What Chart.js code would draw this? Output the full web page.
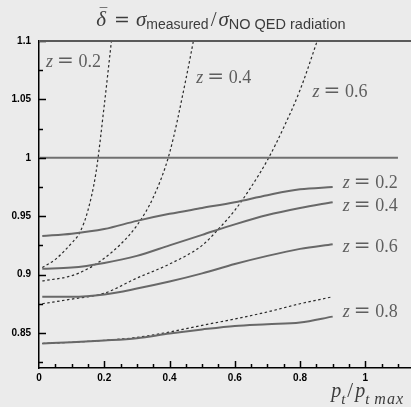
<!DOCTYPE html>
<html>
<head>
<meta charset="utf-8">
<script src="https://cdn.jsdelivr.net/npm/chart.js@4.4.0/dist/chart.umd.min.js"></script>
<style>
  body { margin: 0; background: #ebebeb; }
  canvas { display: block; }
</style>
</head>
<body>
<canvas id="delta-chart" width="411" height="407"></canvas>
<script>
/* delta bar = sigma measured / sigma without QED radiation */

/***** data *****/
const ptSolid = [0.01, 0.1, 0.2, 0.3, 0.4, 0.5, 0.6, 0.7, 0.8, 0.9];
const solidZ02 = [0.933, 0.935, 0.939, 0.946, 0.952, 0.957, 0.962, 0.968, 0.973, 0.975];
const solidZ04 = [0.905, 0.906, 0.910, 0.916, 0.925, 0.934, 0.943, 0.951, 0.957, 0.962];
const solidZ06 = [0.881, 0.881, 0.883, 0.888, 0.894, 0.901, 0.909, 0.916, 0.922, 0.926];
const solidZ08 = [0.841, 0.842, 0.8435, 0.8455, 0.8495, 0.853, 0.856, 0.8575, 0.859, 0.864];

const ptDashZ02 = [0.01, 0.05, 0.1, 0.125, 0.15, 0.175, 0.2, 0.222, 0.25];
const dashZ02 = [0.906, 0.913, 0.927, 0.936, 0.955, 0.988, 1.045, 1.1, 1.17];
const ptDashZ04 = [0.01, 0.1, 0.15, 0.2, 0.25, 0.3, 0.35, 0.4, 0.45, 0.5];
const dashZ04 = [0.8945, 0.899, 0.905, 0.914, 0.926, 0.942, 0.966, 1.004, 1.067, 1.14];
const ptDashZ06 = [0.01, 0.1, 0.2, 0.3, 0.4, 0.5, 0.55, 0.6, 0.65, 0.7, 0.75, 0.8, 0.85, 0.9];
const dashZ06 = [0.875, 0.879, 0.884, 0.897, 0.909, 0.925, 0.939, 0.955, 0.975, 0.998, 1.026, 1.058, 1.098, 1.14];
const dashZ08 = [0.841, 0.842, 0.8437, 0.8462, 0.8508, 0.8565, 0.862, 0.868, 0.875, 0.881];

const refX = [0, 1.1];
const refY = [1, 1];

const xTickValues = [0, 0.2, 0.4, 0.6, 0.8, 1];
const yTickValues = [0.85, 0.9, 0.95, 1, 1.05, 1.1];

const zTop = ["0.2", "0.4", "0.6"];
const zRight = ["0.2", "0.4", "0.6", "0.8"];

function toPoints(xs, ys) {
    return xs.map((x, i) => ({ x: x, y: ys[i] }));
}

/***** styles *****/
const solidStyle = {
    borderColor: '#686868',
    borderWidth: 2,
    pointRadius: 0,
    cubicInterpolationMode: 'monotone',
    fill: false
};

const dashStyle = {
    borderColor: '#2a2a2a',
    borderWidth: 1.2,
    borderDash: [2.5, 2.5],
    pointRadius: 0,
    cubicInterpolationMode: 'monotone',
    fill: false
};

/***** extra drawing: background, inner ticks, texts *****/
const serif = "'Liberation Serif', serif";
const sans = "'Liberation Sans', sans-serif";

function drawZ(ctx, x, y, value) {
    ctx.font = "italic 18px " + serif;
    ctx.fillText("z", x, y);
    ctx.font = "20px 'DejaVu Serif', serif";
    ctx.fillText("=", x + 11, y);
    ctx.font = "18px " + serif;
    ctx.fillText(value, x + 32.5, y);
}

function drawRuns(ctx, x, y, runs) {
    runs.forEach(r => {
        ctx.font = r.font;
        ctx.letterSpacing = r.spacing || '0px';
        ctx.fillText(r.text, x, y + (r.dy || 0));
        x += ctx.measureText(r.text).width + (r.gap || 0);
    });
    ctx.letterSpacing = '0px';
}

function runsWidth(ctx, runs) {
    let w = 0;
    runs.forEach(r => {
        ctx.font = r.font;
        ctx.letterSpacing = r.spacing || '0px';
        w += ctx.measureText(r.text).width + (r.gap || 0);
    });
    ctx.letterSpacing = '0px';
    return w;
}

function drawInnerTicks(chart) {
    const ctx = chart.ctx;
    const area = chart.chartArea;
    const xs = chart.scales.x;
    const ys = chart.scales.y;
    ctx.save();
    ctx.setLineDash([]);
    ctx.strokeStyle = '#000000';
    ctx.lineWidth = 1.5;
    // y ticks every 0.025, longer on labelled values
    for (let i = 0; i <= 11; i++) {
        const v = 0.825 + i * 0.025;
        const len = (i % 2 === 1) ? 7 : 4;
        const py = Math.round(ys.getPixelForValue(v)) + 0.5;
        ctx.beginPath();
        ctx.moveTo(area.left, py);
        ctx.lineTo(area.left + len, py);
        ctx.stroke();
    }
    // x ticks every 0.05, longer on every 0.2
    for (let i = 1; i <= 22; i++) {
        const v = i * 0.05;
        const len = (i % 4 === 0) ? 7 : 4;
        const px = Math.round(xs.getPixelForValue(v)) + 0.5;
        ctx.beginPath();
        ctx.moveTo(px, area.bottom);
        ctx.lineTo(px, area.bottom - len);
        ctx.stroke();
    }
    // top frame line
    ctx.strokeStyle = '#5a5a5a';
    ctx.lineWidth = 2;
    ctx.beginPath();
    ctx.moveTo(area.left, area.top);
    ctx.lineTo(area.right, area.top);
    ctx.stroke();
    ctx.restore();
}

const decorPlugin = {
    id: 'decor',
    beforeDraw(chart) {
        const ctx = chart.ctx;
        ctx.save();
        ctx.fillStyle = '#ebebeb';
        ctx.fillRect(0, 0, chart.width, chart.height);
        ctx.restore();
    },
    afterDraw(chart) {
        drawInnerTicks(chart);

        const ctx = chart.ctx;
        const area = chart.chartArea;
        const xs = chart.scales.x;
        const ys = chart.scales.y;
        ctx.save();
        ctx.fillStyle = '#5e5e5e';
        ctx.textBaseline = 'alphabetic';
        ctx.textAlign = 'left';

        // z labels near the dotted curves
        const topPos = [[0.0214, 1.078], [0.482, 1.0638], [0.838, 1.0523]];
        zTop.forEach((z, i) => {
            drawZ(ctx, xs.getPixelForValue(topPos[i][0]), ys.getPixelForValue(topPos[i][1]), z);
        });
        // z labels at the ends of the solid curves
        const rightY = [0.9743, 0.9543, 0.9194, 0.8636];
        zRight.forEach((z, i) => {
            drawZ(ctx, xs.getPixelForValue(0.9305), ys.getPixelForValue(rightY[i]), z);
        });

        // title
        ctx.fillStyle = '#3c3c3c';
        const titleRuns = [
            { text: "\u03b4", font: "italic 21px " + serif, gap: 8 },
            { text: "=", font: "19px 'DejaVu Serif', serif", gap: 6 },
            { text: "\u03c3", font: "italic 21px " + serif, gap: 0 },
            { text: "measured", font: "14px " + sans, dy: 2.5, gap: 2 },
            { text: "/", font: "21px " + serif, gap: 2 },
            { text: "\u03c3", font: "italic 21px " + serif, gap: 0 },
            { text: "NO QED radiation", font: "14.5px " + sans, dy: 2.5, gap: 0 }
        ];
        const tw = runsWidth(ctx, titleRuns);
        const tx = (area.left + area.right) / 2 - 4 - tw / 2;
        drawRuns(ctx, tx, 26, titleRuns);
        ctx.font = "15px " + serif;
        ctx.fillText("\u00af", tx + 3.5, 18);

        // x axis title
        const axisRuns = [
            { text: "p", font: "italic 20px " + serif, gap: 0 },
            { text: "t", font: "italic 15px " + serif, dy: 7, gap: 2 },
            { text: "/", font: "21px " + serif, gap: 2 },
            { text: "p", font: "italic 20px " + serif, gap: 0 },
            { text: "t", font: "italic 15px " + serif, dy: 7, gap: 5 },
            { text: "max", font: "italic 16px " + serif, dy: 7, spacing: '1px', gap: 0 }
        ];
        const aw = runsWidth(ctx, axisRuns);
        drawRuns(ctx, area.right - 7 - aw, area.bottom + 29, axisRuns);
        ctx.restore();
    }
};

/***** chart *****/
const deltaCanvas = document.getElementById("delta-chart");

const deltaData = {
    datasets: [
        Object.assign({ data: toPoints(refX, refY) }, solidStyle, { borderColor: '#707070', cubicInterpolationMode: 'default', tension: 0 }),
        Object.assign({ data: toPoints(ptSolid, solidZ02) }, solidStyle),
        Object.assign({ data: toPoints(ptSolid, solidZ04) }, solidStyle),
        Object.assign({ data: toPoints(ptSolid, solidZ06) }, solidStyle),
        Object.assign({ data: toPoints(ptSolid, solidZ08) }, solidStyle),
        Object.assign({ data: toPoints(ptDashZ02, dashZ02) }, dashStyle),
        Object.assign({ data: toPoints(ptDashZ04, dashZ04) }, dashStyle),
        Object.assign({ data: toPoints(ptDashZ06, dashZ06) }, dashStyle),
        Object.assign({ data: toPoints(ptSolid, dashZ08) }, dashStyle)
    ]
};

const tickFont = { family: 'Liberation Sans', size: 10, weight: 'bold' };

const deltaOptions = {
    responsive: false,
    devicePixelRatio: 1,
    animation: false,
    layout: {
        padding: { top: 41, right: 0, bottom: 0, left: 0 }
    },
    scales: {
        x: {
            type: 'linear',
            min: 0,
            max: 1.14,
            grid: { display: false, drawTicks: false },
            border: { display: true, color: '#000', width: 1.5 },
            afterBuildTicks: scale => { scale.ticks = xTickValues.map(v => ({ value: v })); },
            afterFit: scale => { scale.height = 39; },
            ticks: {
                color: '#000',
                font: tickFont,
                padding: 4,
                maxRotation: 0,
                autoSkip: false,
                callback: v => String(v)
            }
        },
        y: {
            type: 'linear',
            min: 0.82,
            max: 1.1,
            grid: { display: false, drawTicks: false },
            border: { display: true, color: '#000', width: 1.5 },
            afterBuildTicks: scale => { scale.ticks = yTickValues.map(v => ({ value: v })); },
            afterFit: scale => { scale.width = 39; },
            ticks: {
                color: '#000',
                font: tickFont,
                padding: 8,
                autoSkip: false,
                callback: v => String(v)
            }
        }
    },
    plugins: {
        legend: { display: false },
        tooltip: { enabled: false }
    }
};

let deltaChart = new Chart(deltaCanvas, {
    type: 'line',
    data: deltaData,
    options: deltaOptions,
    plugins: [decorPlugin]
});
</script>
</body>
</html>
